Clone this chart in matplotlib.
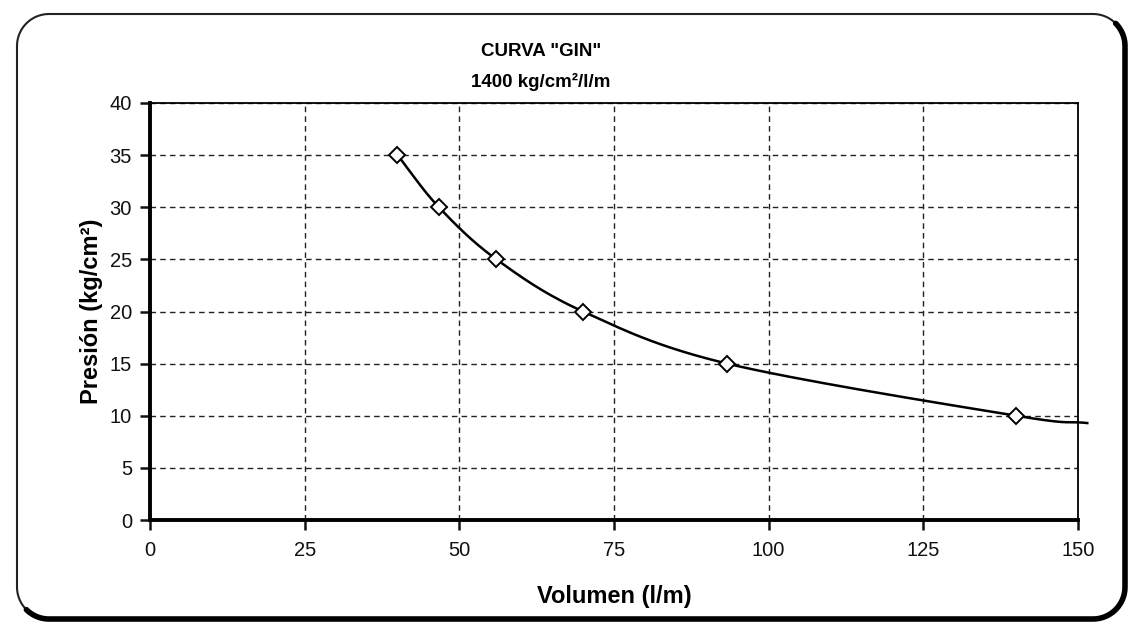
import matplotlib
matplotlib.use("Agg")
import matplotlib.pyplot as plt
import numpy as np

plt.rcParams['font.family'] = ['Liberation Sans', 'DejaVu Sans']

# Data
volumen = [40, 46.7, 56, 70, 93.3, 140]
presion = [35, 30, 25, 20, 15, 10]
# line continues slightly past the last marker
linea_vol = [40, 46.7, 56, 70, 93.3, 140, 151.5]
linea_pres = [35, 30, 25, 20, 15, 10, 9.3]
x_ticks = [0, 25, 50, 75, 100, 125, 150]
y_ticks = [0, 5, 10, 15, 20, 25, 30, 35, 40]


def smooth(xs, ys, n=30):
    # Catmull-Rom rendering of the line (Excel "smoothed line" look)
    pts = np.column_stack([xs, ys]).astype(float)
    P = np.vstack([2 * pts[0] - pts[1], pts, 2 * pts[-1] - pts[-2]])
    out = []
    for i in range(1, len(P) - 2):
        p0, p1, p2, p3 = P[i - 1], P[i], P[i + 1], P[i + 2]
        t = np.linspace(0, 1, n)[:, None]
        c = 0.5 * ((2 * p1) + (-p0 + p2) * t + (2 * p0 - 5 * p1 + 4 * p2 - p3) * t ** 2
                   + (-p0 + 3 * p1 - 3 * p2 + p3) * t ** 3)
        out.append(c)
    c = np.vstack(out)
    return c[:, 0], c[:, 1]


def arc(cx, cy, r, a0, a1, n=20):
    a = np.radians(np.linspace(a0, a1, n))
    return cx + r * np.cos(a), cy + r * np.sin(a)


W, H = 1130, 634
fig = plt.figure(figsize=(W / 100, H / 100), dpi=100)
fig.patch.set_facecolor('white')

# outer rounded frame, drawn in pixel coordinates (y downwards)
bg = fig.add_axes([0, 0, 1, 1])
bg.set_xlim(0, W)
bg.set_ylim(H, 0)
bg.axis('off')
x0, x1, y0, y1, r = 17, 1125, 14, 619, 32
xs, ys = [], []
for (cx, cy, a0, a1) in [(x0 + r, y0 + r, 180, 270), (x1 - r, y0 + r, 270, 360),
                         (x1 - r, y1 - r, 0, 90), (x0 + r, y1 - r, 90, 180)]:
    ax_, ay_ = arc(cx, cy, r, a0, a1)
    xs.extend(ax_); ys.extend(ay_)
xs.append(xs[0]); ys.append(ys[0])
bg.plot(xs, ys, color='#222222', linewidth=1.5)
# heavier shadow edge along right and bottom
tx, ty = [], []
for (cx, cy, a0, a1) in [(x1 - r, y0 + r, 315, 360), (x1 - r, y1 - r, 0, 90),
                         (x0 + r, y1 - r, 90, 135)]:
    ax_, ay_ = arc(cx, cy, r, a0, a1)
    tx.extend(ax_); ty.extend(ay_)
bg.plot(tx, ty, color='black', linewidth=4, solid_capstyle='round')

ax = fig.add_axes([150 / W, 1 - 520 / H, (1078 - 150) / W, (520 - 103) / H])
ax.set_xlim(0, 150)
ax.set_ylim(0, 40)
ax.patch.set_alpha(0)

ax.grid(True, color='#222222', linestyle=(0, (4, 3)), linewidth=1.0)
ax.set_axisbelow(True)

sx, sy = smooth(linea_vol, linea_pres)
ax.plot(sx, sy, color='black', linewidth=1.8, clip_on=False, zorder=3)
ax.plot(volumen, presion, linestyle='none', marker='D', markersize=8,
        markerfacecolor='white', markeredgecolor='black', markeredgewidth=1.4, zorder=4)

ax.set_xticks(x_ticks)
ax.set_yticks(y_ticks)
ax.tick_params(direction='out', length=7, width=1.8, labelsize=14.5, colors='#111111', pad=6)
ax.tick_params(axis='x', pad=8)
for s in ax.spines.values():
    s.set_linewidth(1.3)
ax.spines['left'].set_linewidth(2.8)
ax.spines['bottom'].set_linewidth(2.8)

ax.set_xlabel('Volumen (l/m)', fontsize=17, fontweight='bold', labelpad=18)
ax.set_ylabel('Presión (kg/cm²)', fontsize=17, fontweight='bold', labelpad=5)

fig.text(541 / W, 1 - 51 / H, 'CURVA "GIN"', fontsize=13.5, fontweight='bold',
         ha='center', va='center')
fig.text(541 / W, 1 - 82 / H, '1400 kg/cm²/l/m', fontsize=13.5, fontweight='bold',
         ha='center', va='center')

fig.savefig('out.png', dpi=100, facecolor='white')
